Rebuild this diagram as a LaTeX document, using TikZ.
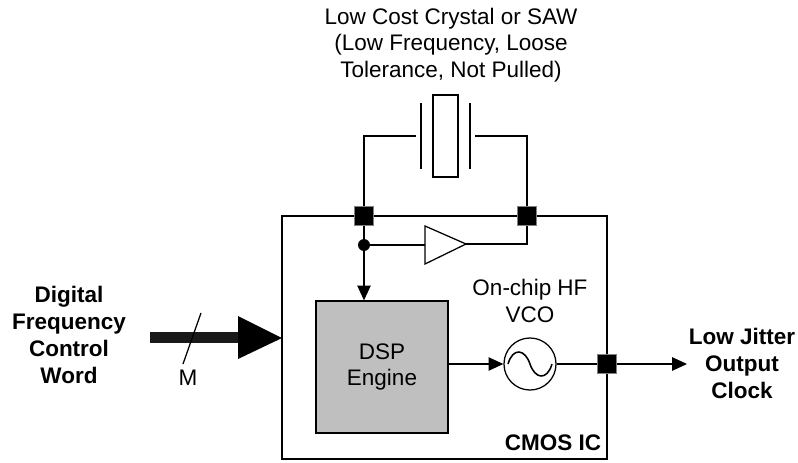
\documentclass[tikz,border=0pt]{standalone}
\usepackage{fontspec}
\setmainfont{Liberation Sans}
\usetikzlibrary{arrows.meta}
\tikzset{
  wire/.style={line width=0.9pt,black},
  sigarrow/.style={wire,-{Triangle[length=10.5pt,width=9.5pt]}},
  pad/.style={rectangle,fill=black,draw=gray,line width=0.2pt,minimum size=13.4pt,inner sep=0pt},
  lbl/.style={font=\fontsize{16}{19}\selectfont,align=center,inner sep=0pt},
  boldlbl/.style={lbl,font=\fontsize{16}{19.2}\selectfont\bfseries}
}
\begin{document}
\begin{tikzpicture}[x=0.025cm,y=-0.025cm]
\useasboundingbox (0,0) rectangle (798,462);

\draw[wire] (282,216) rectangle (607,459);					% IC outline
\node[lbl] (crystaltext) at (451,45) {Low Cost Crystal or SAW\\(Low Frequency, Loose\\Tolerance, Not Pulled)};

\node[draw,wire,minimum width=17.8pt,minimum height=58.3pt,inner sep=0pt] (crystal) at (445.5,136) {};	% crystal
\coordinate (plateLa) at (421,103);
\coordinate (plateLb) at (421,169);
\coordinate (plateRa) at (470,103);
\coordinate (plateRb) at (470,169);
\draw[wire] (plateLa) -- (plateLb);
\draw[wire] (plateRa) -- (plateRb);

\node[pad] (padL) at (364,216) {};
\node[pad] (padR) at (527,216) {};
\node[pad] (padO) at (607,364) {};

\coordinate (wireL) at (416,136);
\coordinate (wireR) at (475,136);
\draw[wire] (padL) |- (wireL);
\draw[wire] (padR) |- (wireR);

\node[circle,fill=black,inner sep=0pt,minimum size=8.5pt] (dot) at (364,245) {};
\draw[wire] (padL) -- (dot);

% amplifier
\coordinate (ampA) at (425,226);
\coordinate (ampB) at (425,264);
\coordinate (ampT) at (466,244);
\draw[wire,line join=miter] (ampA) -- (ampT) -- (ampB) -- cycle;
\draw[wire] (dot) -- (ampA |- dot);
\draw[wire] (ampT) -| (padR);

\node[draw,wire,fill=black!25,minimum width=93.9pt,minimum height=93.9pt,lbl,inner sep=0pt] (dsp) at (382,367) {DSP\\Engine};
\draw[sigarrow] (dot) -- (dsp.north -| dot);

% oscillator
\node[draw,wire,circle,minimum size=37pt,inner sep=0pt] (vco) at (530,364) {};
\draw[wire,line width=1.1pt] (508,364) .. controls (513,347) and (525,349) .. (530,364) .. controls (535,379) and (547,381) .. (552,364);
\draw[sigarrow] (dsp.east |- vco) -- (vco);
\draw[wire] (vco) -- (padO);
\node[lbl] (vcotext) at (530,301) {On-chip HF\\VCO};

\coordinate (clkend) at (687,364);
\draw[sigarrow] (padO) -- (clkend);
\node[boldlbl] (clktext) at (742,363) {Low Jitter\\Output\\Clock};

% control word bus
\node[boldlbl] (wordtext) at (69,335) {Digital\\Frequency\\Control\\Word};
\coordinate (busA) at (150,337.5);
\coordinate (busB) at (240,337.5);
\coordinate (headA) at (238,316);
\coordinate (headB) at (238,359);
\coordinate (headT) at (282,338);
\draw[line width=8pt,black!90] (busA) -- (busB);
\fill[black] (headA) -- (headT) -- (headB) -- cycle;
\coordinate (slashA) at (201,313);
\coordinate (slashB) at (183,364);
\draw[wire] (slashA) -- (slashB);
\node[lbl] (mtext) at (188,378) {M};
\node[boldlbl] (cmostext) at (553,443) {CMOS IC};
\end{tikzpicture}
\end{document}
